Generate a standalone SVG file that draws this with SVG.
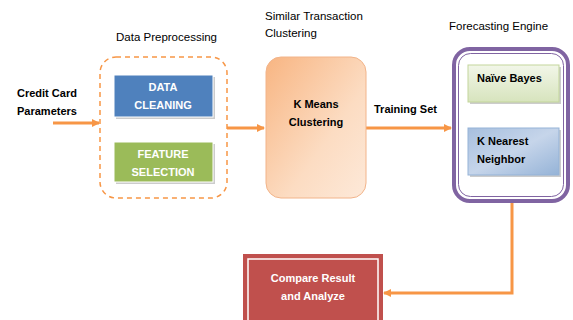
<svg xmlns="http://www.w3.org/2000/svg" width="573" height="320" viewBox="0 0 573 320">
<defs>
<style>
text{font-family:"Liberation Sans",Arial,sans-serif;font-size:11.5px;fill:#000}
.b{font-weight:bold;font-size:11px}
.w{fill:#fff;font-weight:bold;font-size:11px}
.c{text-anchor:middle}
.conn{stroke:#F79646;stroke-width:3;fill:none}
.shadow{fill:#9a9a9a;opacity:0.5}
</style>
<marker id="ah" viewBox="0 0 8 8" refX="7" refY="4" markerWidth="8" markerHeight="8" markerUnits="userSpaceOnUse" orient="auto">
<path d="M0,0 L8,4 L0,8 Z" fill="#F79646"/>
</marker>
<linearGradient id="gK" x1="0" y1="0" x2="1" y2="1">
<stop offset="0" stop-color="#F8B582"/>
<stop offset="0.6" stop-color="#FCDCC2"/>
<stop offset="1" stop-color="#FDE9D9"/>
</linearGradient>
<linearGradient id="gN" x1="0" y1="0" x2="0" y2="1">
<stop offset="0" stop-color="#F2F6E9"/>
<stop offset="1" stop-color="#D7E4BD"/>
</linearGradient>
<linearGradient id="gB" x1="0" y1="0" x2="1" y2="1">
<stop offset="0" stop-color="#A7BFDE"/>
<stop offset="0.5" stop-color="#C6D5EA"/>
<stop offset="1" stop-color="#95B3D7"/>
</linearGradient>
</defs>
<rect width="573" height="320" fill="#fff"/>

<g id="connectors">
<line class="conn" x1="53" y1="123" x2="99" y2="123" marker-end="url(#ah)"/>
<line class="conn" x1="227" y1="128" x2="264" y2="128" marker-end="url(#ah)"/>
<line class="conn" x1="366" y1="128" x2="451" y2="128" marker-end="url(#ah)"/>
<polyline class="conn" stroke-width="2.5" points="512,203 512,293 384,293" marker-end="url(#ah)"/>
</g>

<g id="input">
<text class="b" x="17" y="97">Credit Card</text>
<text class="b" x="17" y="115">Parameters</text>
</g>

<g id="preprocessing">
<text x="116" y="41">Data Preprocessing</text>
<rect x="100" y="57" width="127" height="141" rx="16" fill="none" stroke="#F79646" stroke-width="1.5" stroke-dasharray="5,4"/>
</g>

<g id="data-cleaning">
<rect class="shadow" x="116" y="77" width="99" height="42"/>
<rect x="114" y="75" width="99" height="42" fill="#4F81BD" stroke="#fff" stroke-width="1"/>
<text class="w c" x="163" y="91">DATA</text>
<text class="w c" x="163" y="109">CLEANING</text>
</g>

<g id="feature-selection">
<rect class="shadow" x="116" y="144" width="99" height="40"/>
<rect x="114" y="142" width="99" height="40" fill="#9BBB59" stroke="#fff" stroke-width="1"/>
<text class="w c" x="163" y="158">FEATURE</text>
<text class="w c" x="163" y="176">SELECTION</text>
</g>

<g id="kmeans">
<text x="265" y="20">Similar Transaction</text>
<text x="265" y="37">Clustering</text>
<rect x="266" y="57" width="100" height="141" rx="15" fill="url(#gK)" stroke="#F2B48A" stroke-width="1"/>
<text class="b c" x="316" y="108">K Means</text>
<text class="b c" x="316" y="126">Clustering</text>
</g>

<g id="training-label">
<text class="b" x="374" y="113">Training Set</text>
</g>

<g id="forecasting">
<text x="449" y="30">Forecasting Engine</text>
<rect x="454" y="49" width="114" height="152" rx="16" fill="#fff" stroke="#8064A2" stroke-width="4"/>
<rect x="458.5" y="53.5" width="105" height="143" rx="12" fill="none" stroke="#8064A2" stroke-width="1"/>
</g>

<g id="naive-bayes">
<rect class="shadow" x="470" y="67" width="91" height="37"/>
<rect x="468" y="65" width="91" height="37" fill="url(#gN)" stroke="#C3D69B" stroke-width="1"/>
<text class="b" x="477" y="82">Naïve Bayes</text>
</g>

<g id="knn">
<rect class="shadow" x="470" y="130" width="91" height="47"/>
<rect x="468" y="128" width="91" height="47" fill="url(#gB)" stroke="#95B3D7" stroke-width="1"/>
<text class="b" x="477" y="145">K Nearest</text>
<text class="b" x="477" y="163">Neighbor</text>
</g>

<g id="compare">
<rect x="243" y="254" width="140" height="70" fill="#C0504D"/>
<rect x="248" y="259" width="130" height="70" fill="none" stroke="#fff" stroke-width="1.5"/>
<text class="w c" x="313" y="282">Compare Result</text>
<text class="w c" x="313" y="300">and Analyze</text>
</g>
</svg>
